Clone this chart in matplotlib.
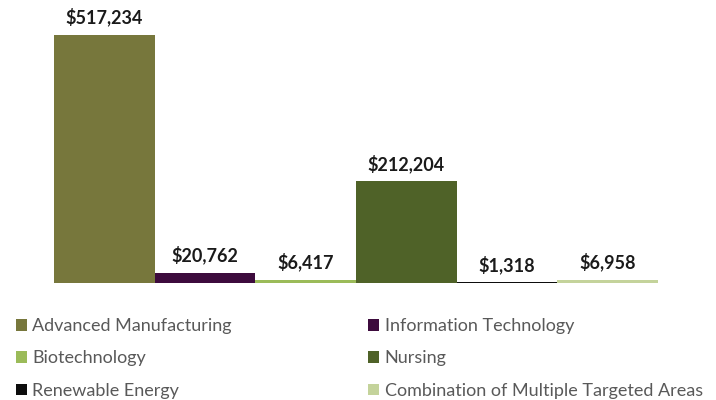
import matplotlib.pyplot as plt
from matplotlib.patches import Patch

# data
categories = ['Advanced Manufacturing', 'Information Technology', 'Biotechnology',
              'Nursing', 'Renewable Energy', 'Combination of Multiple Targeted Areas']
amounts = [517234, 20762, 6417, 212204, 1318, 6958]
bar_colors = ['#77773C', '#3D0B3D', '#9BBB59', '#4F6228', '#0D0D0D', '#C4D39B']

plt.rcParams['font.family'] = ['Lato', 'DejaVu Sans']

fig = plt.figure(figsize=(7.16, 4.0), dpi=100)
# axes placed so the baseline and bar extent line up with the picture
ax = fig.add_axes([54 / 716, 117 / 400, 604 / 716, 273 / 400])

x = range(len(amounts))
bars = ax.bar(x, amounts, width=1.0, color=bar_colors, linewidth=0)
ax.set_xlim(-0.5, len(amounts) - 0.5)
ax.set_ylim(0, amounts[0] * 273 / 248)

for rect, val in zip(bars, amounts):
    ax.annotate('${:,}'.format(val), (rect.get_x() + rect.get_width() / 2, rect.get_height()),
                xytext=(0, 6), textcoords='offset points', ha='center', va='bottom',
                fontsize=13, fontweight='bold', color='#1a1a1a')

ax.axis('off')

# legend filled column-wise, so reorder to read row by row
order = [0, 2, 4, 1, 3, 5]
handles = [Patch(facecolor=bar_colors[i], edgecolor='none') for i in order]
labels = [categories[i] for i in order]
fig.legend(handles, labels, loc='upper left', bbox_to_anchor=(0, 1 - 302 / 400),
           ncol=2, frameon=False, fontsize=13, labelcolor='#595959',
           handlelength=0.6, handleheight=0.6, handletextpad=0.3,
           columnspacing=7.55, labelspacing=0.9)

plt.savefig('out.png', dpi=100, facecolor='white')
